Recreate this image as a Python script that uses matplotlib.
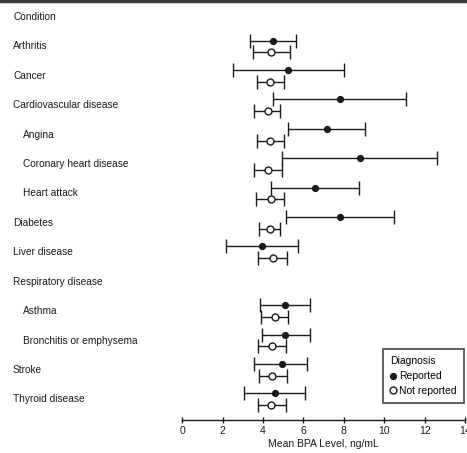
import matplotlib
matplotlib.use('Agg')
import matplotlib.pyplot as plt
import matplotlib.transforms as mtransforms
from matplotlib.lines import Line2D

# rows from top to bottom; indent marks sub-conditions
labels = ['Condition', 'Arthritis', 'Cancer', 'Cardiovascular disease', 'Angina',
          'Coronary heart disease', 'Heart attack', 'Diabetes', 'Liver disease',
          'Respiratory disease', 'Asthma', 'Bronchitis or emphysema', 'Stroke',
          'Thyroid disease']
indent = [0, 0, 0, 0, 1, 1, 1, 0, 0, 0, 1, 1, 0, 0]

# rows that carry estimates (index into labels)
rows = [1, 2, 3, 4, 5, 6, 7, 8, 10, 11, 12, 13]

rep_mean = [4.52, 5.25, 7.82, 7.19, 8.78, 6.55, 7.82, 3.94, 5.07, 5.10, 4.93, 4.60]
rep_low = [3.37, 2.51, 4.49, 5.23, 4.93, 4.41, 5.12, 2.15, 3.86, 3.93, 3.58, 3.04]
rep_high = [5.63, 7.99, 11.07, 9.04, 12.61, 8.73, 10.46, 5.74, 6.34, 6.34, 6.20, 6.09]

not_mean = [4.39, 4.36, 4.24, 4.36, 4.27, 4.39, 4.36, 4.49, 4.57, 4.44, 4.47, 4.41]
not_low = [3.50, 3.70, 3.55, 3.70, 3.55, 3.66, 3.79, 3.76, 3.91, 3.73, 3.78, 3.73]
not_high = [5.35, 5.05, 4.85, 5.05, 4.92, 5.05, 4.85, 5.18, 5.23, 5.15, 5.18, 5.15]

xticks = [0, 2, 4, 6, 8, 10, 12, 14]

plt.rcParams['font.family'] = ['Liberation Sans', 'DejaVu Sans']
ink = '#1a1a1a'

fig = plt.figure(figsize=(4.67, 4.53), dpi=100)
ax = fig.add_axes([0.39, 0.073, 0.606, 0.927])

# dark scan border along the top
fig.add_artist(Line2D([0, 1], [0.997, 0.997], transform=fig.transFigure,
                      color='#3a3a3a', linewidth=2.5))

off = 0.2
y_rep = [r - off for r in rows]
y_not = [r + off for r in rows]

err_rep = [[m - l for m, l in zip(rep_mean, rep_low)],
           [h - m for m, h in zip(rep_mean, rep_high)]]
err_not = [[m - l for m, l in zip(not_mean, not_low)],
           [h - m for m, h in zip(not_mean, not_high)]]

ax.errorbar(rep_mean, y_rep, xerr=err_rep, fmt='o', color=ink,
            markersize=4.2, elinewidth=1.0, capsize=5, capthick=1.0)
ax.errorbar(not_mean, y_not, xerr=err_not, fmt='o', color=ink,
            markerfacecolor='white', markeredgewidth=1.0, markersize=5,
            elinewidth=1.0, capsize=5, capthick=1.0)

ax.set_xlim(0, 14)
ax.set_ylim(13.7, -0.58)
ax.set_yticks([])
for s in ['top', 'right', 'left']:
    ax.spines[s].set_visible(False)
ax.spines['bottom'].set_linewidth(1.0)
ax.spines['bottom'].set_color(ink)
ax.set_xticks(xticks)
ax.tick_params(axis='x', direction='inout', length=5, width=1, labelsize=7.5,
               pad=2, colors=ink)
ax.set_xlabel('Mean BPA Level, ng/mL', fontsize=7.5, labelpad=2, color=ink)

trans = mtransforms.blended_transform_factory(fig.transFigure, ax.transData)
for i, (lab, ind) in enumerate(zip(labels, indent)):
    x = 0.028 + 0.022 * ind
    ax.text(x, i, lab, transform=trans, fontsize=7.3, va='center', ha='left',
            color=ink, clip_on=False)

handles = [Line2D([], [], linestyle='none', marker='o', color=ink, markersize=4.2),
           Line2D([], [], linestyle='none', marker='o', color=ink,
                  markerfacecolor='white', markersize=5)]
leg = ax.legend(handles, ['Reported', 'Not reported'],
                loc='lower right', bbox_to_anchor=(0.997, 0.04),
                title='Diagnosis', fontsize=7.5, title_fontsize=7.5,
                frameon=True, fancybox=False, edgecolor=ink,
                handlelength=0.5, handletextpad=0.4, borderpad=0.7,
                labelspacing=0.45, borderaxespad=0, alignment='left')
leg.get_frame().set_linewidth(1.2)

fig.savefig('out.png', dpi=100)
